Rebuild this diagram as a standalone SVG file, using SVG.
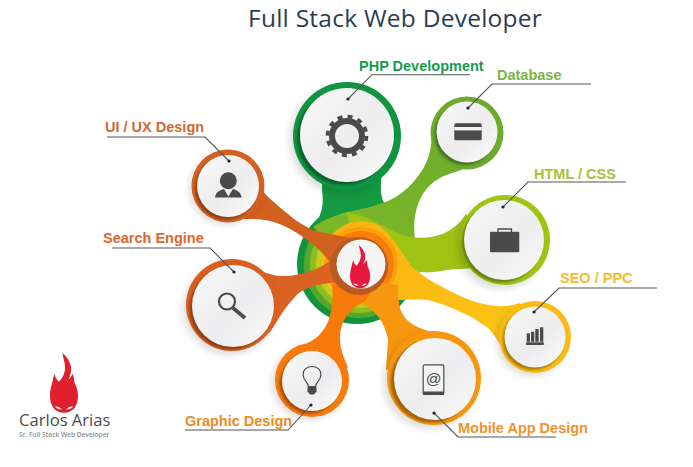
<svg xmlns="http://www.w3.org/2000/svg" xmlns:xlink="http://www.w3.org/1999/xlink" width="693" height="467" viewBox="0 0 693 467">
<style>
.lbl{font-family:"Liberation Sans",Arial,sans-serif;font-weight:700;font-size:14.5px}
.face{fill:url(#faceG)}
.shade{fill:#000;fill-opacity:.34;filter:url(#blur2)}
.soft{fill:#000;fill-opacity:.13;filter:url(#blur4)}
.ic{fill:#4a4a4a}
.ln{fill:none;stroke:#555;stroke-width:1.1;marker-end:url(#dot)}
</style>
<defs>
<filter id="blur2" x="-20%" y="-20%" width="140%" height="140%"><feGaussianBlur stdDeviation="1"/></filter>
<filter id="blur4" x="-30%" y="-30%" width="160%" height="160%"><feGaussianBlur stdDeviation="3.5"/></filter>
<marker id="dot" markerUnits="userSpaceOnUse" markerWidth="5" markerHeight="5" refX="2.5" refY="2.5"><circle cx="2.5" cy="2.5" r="1.6" fill="#222"/></marker>
<linearGradient id="faceG" x1="0" y1="0" x2="1" y2="1"><stop offset="0" stop-color="#fafafa"/><stop offset=".55" stop-color="#ececee"/><stop offset="1" stop-color="#fbfbfb"/></linearGradient>
<linearGradient id="seoG" x1="0" y1="0" x2="1" y2=".3"><stop offset="0" stop-color="#fbb010"/><stop offset="1" stop-color="#fcc416"/></linearGradient>
<linearGradient id="dbG" x1="0" y1="1" x2="1" y2="0"><stop offset="0" stop-color="#80b928"/><stop offset="1" stop-color="#6cab2c"/></linearGradient>
<path id="flame" d="M12.3,0C18,5 22,12 21,18C20.5,22 19.5,24 18.5,27C20,25 21.5,24 22.5,21C24,24 24,27 24.5,30C26.5,34 28,38 28,43C28,52 24,60 14,60C4,60 0,52 0,43C0,38 1,34 2.5,29C3,26 3.5,24 4.5,21C5.5,25 6.5,27 9,29C12,26 15,21 15,15C15,9 13,5 12.3,0Z"/>
<g id="eyes"><path d="M5,53.5C7,53.5 10,54.5 12,56.5C9,57 6,56 5,53.5Z" fill="#fff"/><path d="M23,53.5C21,53.5 18,54.5 16,56.5C19,57 22,56 23,53.5Z" fill="#fff"/></g>
</defs>
<rect width="693" height="467" fill="#fff"/>
<text x="248" y="27" font-family="'Open Sans','Noto Sans',sans-serif" font-size="24.5" letter-spacing=".25" fill="#2b3d55">Full Stack Web Developer</text>

<g id="hub-rings">
<circle cx="357" cy="264" r="60" fill="#14933d"/>
<circle cx="358" cy="264" r="54" fill="#53a92f"/>
<circle cx="359" cy="264" r="49" fill="#8fbc20"/>
<circle cx="360" cy="264" r="44" fill="#c4ce1e"/>
<circle cx="361" cy="264" r="39" fill="#fcc013"/>
</g>

<g id="node-php">
<path fill="#149a40" d="M322,170L322,190C324,205 322,215 313,227L360,265L388,208C380,200 380,190 382,170Z"/>
<circle class="soft" cx="343" cy="140" r="54"/>
<circle cx="347" cy="136" r="54" fill="#0f9441"/>
<circle class="shade" cx="344" cy="138" r="47"/>
<circle class="face" cx="347" cy="135" r="47"/>
<circle cx="347" cy="136" r="15" fill="none" stroke="#4a4a4a" stroke-width="6"/>
<circle cx="347" cy="136" r="19.5" fill="none" stroke="#4a4a4a" stroke-width="3.6" stroke-dasharray="5 5.21"/>
<text class="lbl" x="359" y="71" fill="#1a9a4e">PHP Development</text>
</g>

<g id="node-database">
<path fill="url(#dbG)" d="M432,130C432,150 428,165 415,180C400,198 385,205 347,212C335,215 320,222 313,227L360,270L415,240C412,215 418,190 440,178C455,170 475,170 490,150L480,120Z"/>
<circle cx="467" cy="133" r="36.5" fill="#6cab2c"/>
<circle class="shade" cx="465" cy="134.5" r="30.5"/>
<circle class="face" cx="467" cy="132" r="30.5"/>
<rect class="ic" x="454.3" y="123.3" width="27.4" height="17" rx="1.6"/>
<rect x="454.3" y="127" width="27.4" height="3.4" fill="#f2f2f2"/>
<text class="lbl" x="497" y="80" fill="#7ab544">Database</text>
</g>

<g id="node-html">
<path fill="#9fc414" d="M347,212C365,215 380,225 395,232C410,240 435,240 450,230C458,225 462,220 466,214L500,270C480,268 465,268 447,270C435,272 428,273 422,272L360,280Z"/>
<circle class="soft" cx="501" cy="244" r="45"/>
<circle cx="505" cy="240" r="45" fill="#9fc414"/>
<circle class="shade" cx="501.5" cy="242.5" r="40"/>
<circle class="face" cx="504" cy="240" r="40"/>
<rect class="ic" x="490" y="231.7" width="29.3" height="20.6" rx="1.2"/>
<path d="M498,232V229H511.5V232" fill="none" stroke="#4a4a4a" stroke-width="1.3"/>
<text class="lbl" x="534" y="179" fill="#a3c43a">HTML / CSS</text>
</g>

<g id="node-seo">
<path fill="url(#seoG)" d="M330,238C338,224 360,216 378,225C395,237 402,255 413,268C425,278 445,290 470,300C490,307 505,308 520,303L540,340L505,352C500,345 495,335 488,328C475,318 450,305 427,300C415,299 405,300 395,300L360,290Z"/>
<circle class="soft" cx="532" cy="340" r="36"/>
<circle cx="535" cy="337" r="36" fill="#fbbb12"/>
<circle class="shade" cx="533" cy="339.5" r="30.5"/>
<circle class="face" cx="535" cy="337" r="30.5"/>
<path class="ic" d="M526.7,333.3H530V341.7H526.7ZM531,331.7H534.3V341.7H531ZM535.3,329H538.7V341.7H535.3ZM540,327.3H543.3V341.7H540ZM526.2,342.3H543.8V345H526.2Z"/>
<text class="lbl" x="560" y="283" fill="#f6bd2c">SEO / PPC</text>
</g>

<g id="hub-mid">
<circle cx="361" cy="264" r="37" fill="#fb9f0d"/>
<circle cx="361" cy="264" r="33" fill="#f67f0a"/>
</g>

<g id="node-mobile">
<path fill="#f7960f" d="M363,305C375,308 386,325 388,340L386,370L460,360L447,335C430,332 415,328 407,320C400,312 398,305 398,285L360,280Z"/>
<circle class="soft" cx="430" cy="382" r="47"/>
<circle cx="434" cy="378" r="47" fill="#f7960f"/>
<circle class="shade" cx="431.5" cy="381.5" r="41"/>
<circle class="face" cx="435" cy="379" r="41"/>
<rect x="423.2" y="364.8" width="20.6" height="29.7" rx="1.6" fill="#f4f4f4" stroke="#4a4a4a" stroke-width="1.2"/>
<rect class="ic" x="423" y="391.5" width="21" height="3.4"/>
<text x="433.5" y="383.5" text-anchor="middle" font-family="'Liberation Sans',Arial,sans-serif" font-size="15.5" fill="#4a4a4a">@</text>
<text class="lbl" x="458" y="433" fill="#f0932b">Mobile App Design</text>
</g>

<g id="node-graphic">
<path fill="#f87a0a" d="M332,285C334,305 331,326 316,338C308,344 300,346 290,351L300,400L348,367C342,355 337,340 342,325C347,312 355,307 365,301L380,280L350,270Z"/>
<circle class="soft" cx="309" cy="383" r="37"/>
<circle cx="312" cy="380" r="37" fill="#f87a0a"/>
<circle class="shade" cx="309.5" cy="383.5" r="30"/>
<circle class="face" cx="312" cy="381" r="30"/>
<path d="M308.5,386.5C308,382 303,380 303,374.5C303,369.5 307,366.5 312,366.5C317,366.5 321,369.5 321,374.5C321,380 316,382 315.5,386.5Z" fill="none" stroke="#4a4a4a" stroke-width="1.2"/>
<path class="ic" d="M307.5,387H316.5V391.5L314,394.5H310L307.5,391.5Z"/>
<text class="lbl" x="185" y="426" fill="#ee8a20">Graphic Design</text>
</g>

<g id="node-search">
<path fill="#da6222" d="M240,262C255,268 268,275 280,276C300,277 318,270 335,258L345,282C325,283 305,285 295,297C285,307 278,320 270,332L240,350Z"/>
<circle class="soft" cx="229" cy="309" r="46"/>
<circle cx="232" cy="305" r="46" fill="#d95f20"/>
<circle class="shade" cx="230.5" cy="308.5" r="41"/>
<circle class="face" cx="233" cy="306" r="41"/>
<circle cx="227" cy="301.5" r="8" fill="none" stroke="#4a4a4a" stroke-width="2.2"/>
<path d="M233,308L245,318" stroke="#4a4a4a" stroke-width="3.6" fill="none"/>
<text class="lbl" x="103" y="243" fill="#e0662e">Search Engine</text>
</g>

<g id="node-ui">
<path fill="#d2601f" d="M250,160C255,185 262,192 275,203C290,216 305,230 325,233C340,236 350,238 362,240L345,285C335,265 320,248 300,235C285,225 270,218 245,219L225,219Z"/>
<circle class="soft" cx="225" cy="189" r="36"/>
<circle cx="228" cy="186" r="36.5" fill="#d2601f"/>
<circle class="shade" cx="226" cy="188.5" r="31"/>
<circle class="face" cx="228" cy="186" r="31"/>
<circle class="ic" cx="228.3" cy="180.7" r="8.5"/>
<path class="ic" d="M215,197.5C216,192 219,190.5 224,189L228.3,196.5L233,189C237.5,190.5 240.5,192 241.7,197.5Z"/>
<text class="lbl" x="105" y="132" fill="#cf6a33">UI / UX Design</text>
</g>

<g id="hub-core">
<circle cx="359" cy="266" r="29" fill="#b95a22"/>
<circle cx="361" cy="264" r="24.5" fill="#f5f5f5"/>
<use xlink:href="#flame" href="#flame" transform="translate(350,245) scale(.72)" fill="#e8193f"/>
<use xlink:href="#eyes" href="#eyes" transform="translate(350,245) scale(.72)"/>
</g>

<g id="logo">
<use xlink:href="#flame" href="#flame" transform="translate(50,352.7)" fill="#e0202c"/>
<use xlink:href="#eyes" href="#eyes" transform="translate(50,352.7)"/>
<text x="19" y="426" font-family="'Open Sans','Noto Sans',sans-serif" font-size="16.6" fill="#4b4b4b">Carlos Arias</text>
<text x="19" y="437" font-family="'Open Sans','Noto Sans',sans-serif" font-size="6.6" font-weight="600" fill="#8f8f8f">Sr. Full Stack Web Developer</text>
</g>

<g id="connectors">
<polyline class="ln" points="470,74.7 372,74.7 348,99"/>
<polyline class="ln" points="591,84 492,84 468,108"/>
<polyline class="ln" points="626,182 528,182 503,207"/>
<polyline class="ln" points="657,288 559,288 534,312"/>
<polyline class="ln" points="107,137 205,137 229,161"/>
<polyline class="ln" points="112,248 210,248 234,272"/>
<polyline class="ln" points="185,430 288,430 311,405"/>
<polyline class="ln" points="556,437 458,437 434,413"/>
</g>
</svg>
